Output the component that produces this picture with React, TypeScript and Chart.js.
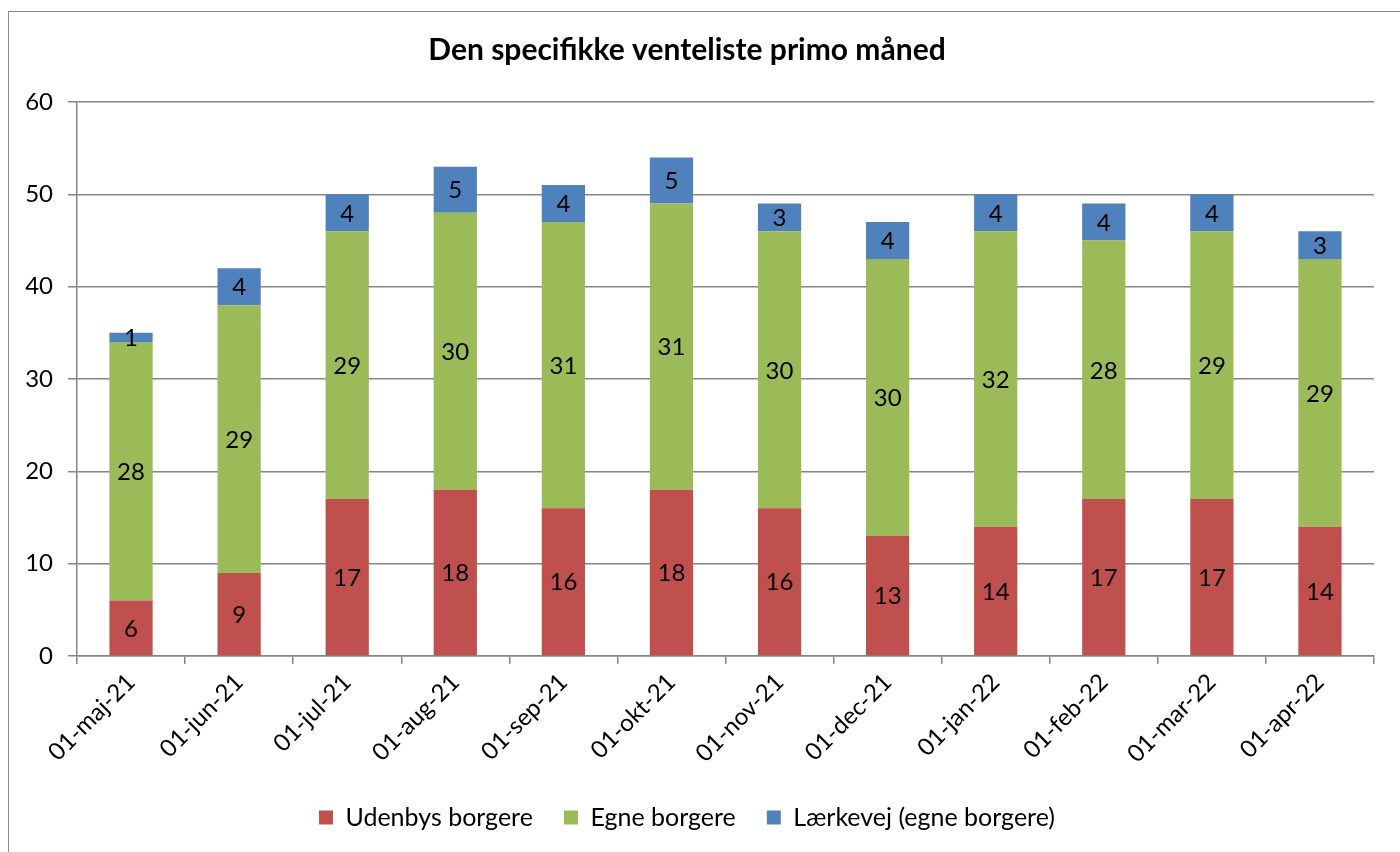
import React, { useEffect, useRef } from "react";
import { Chart, registerables } from "chart.js";

Chart.register(...registerables);

const categories = [
  "01-maj-21", "01-jun-21", "01-jul-21", "01-aug-21", "01-sep-21", "01-okt-21",
  "01-nov-21", "01-dec-21", "01-jan-22", "01-feb-22", "01-mar-22", "01-apr-22",
];
const udenbys = [6, 9, 17, 18, 16, 18, 16, 13, 14, 17, 17, 14];
const egne = [28, 29, 29, 30, 31, 31, 30, 30, 32, 28, 29, 29];
const laerkevej = [1, 4, 4, 5, 4, 5, 3, 4, 4, 4, 4, 3];
const seriesNames = ["Udenbys borgere", "Egne borgere", "Lærkevej (egne borgere)"];
const titleText = "Den specifikke venteliste primo måned";

const FONT = "Lato, 'Open Sans', sans-serif";
const GRID = "#868686";
const FS = 24;

const labelPlugin = {
  id: "segLabels",
  afterDatasetsDraw(chart: any) {
    const ctx = chart.ctx;
    ctx.save();
    ctx.font = `${FS}px ${FONT}`;
    ctx.fillStyle = "#000";
    ctx.textAlign = "center";
    ctx.textBaseline = "middle";
    chart.data.datasets.forEach((ds: any, i: number) => {
      const meta = chart.getDatasetMeta(i);
      meta.data.forEach((el: any, j: number) => {
        const v = ds.data[j];
        const p = el.getProps(["x", "y", "base"], true);
        ctx.fillText(String(v), p.x, (p.y + p.base) / 2 + 1);
      });
    });
    ctx.restore();
  },
};

export default function App() {
  const ref = useRef<HTMLCanvasElement>(null);
  useEffect(() => {
    const chart = new Chart(ref.current!, {
      type: "bar",
      data: {
        labels: categories,
        datasets: [
          { label: seriesNames[0], data: udenbys, backgroundColor: "#C0504D" },
          { label: seriesNames[1], data: egne, backgroundColor: "#9BBB59" },
          { label: seriesNames[2], data: laerkevej, backgroundColor: "#4F81BD" },
        ],
      },
      options: {
        animation: false,
        responsive: false,
        maintainAspectRatio: false,
        datasets: { bar: { barPercentage: 0.4, categoryPercentage: 1 } },
        layout: { padding: { left: 0, right: 26, top: 0, bottom: 12 } },
        plugins: {
          title: {
            display: true,
            text: titleText,
            color: "#000",
            font: { family: FONT, size: 30, weight: "bold", lineHeight: 1.2 },
            padding: { top: 32, bottom: 34 },
          },
          legend: {
            position: "bottom",
            labels: {
              color: "#000",
              font: { family: FONT, size: 25 },
              boxWidth: 14,
              boxHeight: 14,
              padding: 31,
            },
          },
          tooltip: { enabled: false },
        },
        scales: {
          x: {
            stacked: true,
            afterFit(scale: any) { scale.height = 118; },
            grid: {
              display: true,
              offset: true,
              drawOnChartArea: false,
              drawTicks: true,
              tickLength: 8,
              color: GRID,
              lineWidth: 1.5,
            },
            border: { display: true, color: GRID, width: 1.5 },
            ticks: {
              color: "#000",
              font: { family: FONT, size: FS },
              minRotation: 45,
              maxRotation: 45,
              padding: 4,
            },
          },
          y: {
            stacked: true,
            min: 0,
            max: 60,
            afterFit(scale: any) { scale.width = 77; },
            grid: { color: GRID, lineWidth: 1.5, tickLength: 9, drawTicks: true },
            border: { display: true, color: GRID, width: 1.5 },
            ticks: {
              stepSize: 10,
              color: "#000",
              font: { family: FONT, size: FS },
              padding: 15,
            },
          },
        },
      },
      plugins: [labelPlugin],
    });
    return () => chart.destroy();
  }, []);

  return (
    <div style={{ position: "fixed", left: 0, top: 0, width: 1400, height: 852, background: "#fff", overflow: "hidden" }}>
      <div
        style={{
          position: "absolute",
          left: 8,
          top: 11,
          width: 1420,
          height: 900,
          borderLeft: "1.5px solid #888",
          borderTop: "1.5px solid #888",
        }}
      />
      <canvas ref={ref} width={1400} height={852} style={{ position: "absolute", left: 0, top: 0 }} />
    </div>
  );
}
